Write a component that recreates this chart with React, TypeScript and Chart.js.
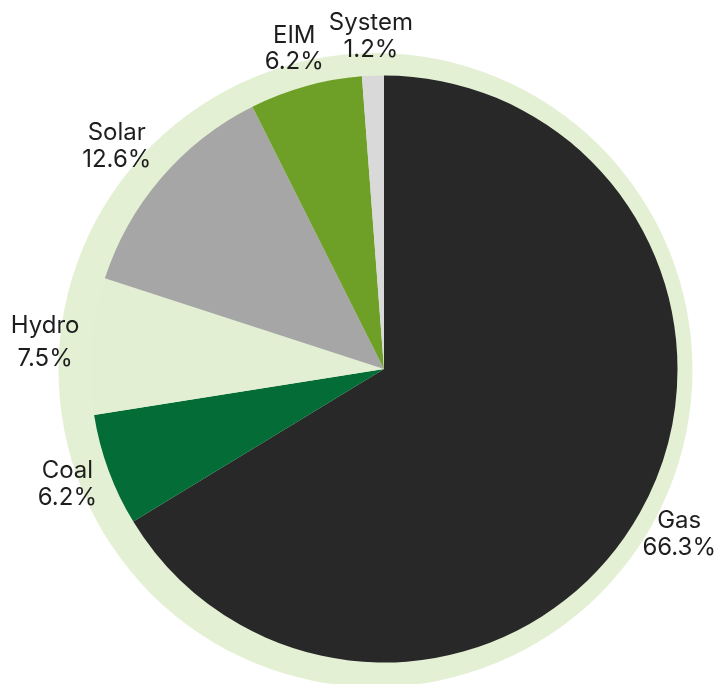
import React, { useEffect, useRef } from "react";
import { Chart, registerables } from "chart.js";

Chart.register(...registerables);

const categories = ["Gas", "Coal", "Hydro", "Solar", "EIM", "System"];
const shares = [66.3, 6.2, 7.5, 12.6, 6.2, 1.2];
const sliceColors = ["#282828", "#036c37", "#e3efd3", "#a6a6a6", "#6ea028", "#d9d9d9"];
const lineGaps = [27, 27, 33, 27, 26, 27];

const LABEL_FONT = "24px Inter";
const LABEL_PAD = 4;
const LABEL_OFFSET = 8;

const backgroundCircle = {
  id: "backgroundCircle",
  beforeDatasetsDraw(chart: any) {
    const meta = chart.getDatasetMeta(0);
    const arc = meta.data[0];
    if (!arc) return;
    const { x, y, outerRadius } = arc.getProps(["x", "y", "outerRadius"], true);
    const ctx = chart.ctx;
    ctx.save();
    ctx.fillStyle = "#e3f0d3";
    ctx.beginPath();
    ctx.arc(x - 8.5, y + 1, outerRadius + 23.5, 0, Math.PI * 2);
    ctx.fill();
    ctx.restore();
  },
};

const outerLabels = {
  id: "outerLabels",
  afterDatasetsDraw(chart: any) {
    const meta = chart.getDatasetMeta(0);
    const ctx = chart.ctx;
    ctx.save();
    ctx.fillStyle = "#1e1e1e";
    ctx.font = LABEL_FONT;
    ctx.textAlign = "center";
    ctx.textBaseline = "middle";
    meta.data.forEach((el: any, i: number) => {
      const { x, y, startAngle, endAngle, outerRadius } = el.getProps(
        ["x", "y", "startAngle", "endAngle", "outerRadius"],
        true
      );
      const lines = [categories[i], shares[i].toFixed(1) + "%"];
      const gap = lineGaps[i];
      const tw = Math.max(...lines.map((t) => ctx.measureText(t).width));
      const w = tw + 2 * LABEL_PAD;
      const h = lines.length * gap + 2 * LABEL_PAD;
      const mid = (startAngle + endAngle) / 2;
      const vx = Math.cos(mid);
      const vy = Math.sin(mid);
      const vs = 1 / Math.max(Math.abs(vx), Math.abs(vy));
      const ex = x + vx * outerRadius;
      const ey = y + vy * outerRadius;
      let lx = ex + (w / 2) * vx * vs + LABEL_OFFSET * vx;
      const ly = ey + (h / 2) * vy * vs + LABEL_OFFSET * vy;
      const maxX = chart.width - 1 - tw / 2;
      const minX = 1 + tw / 2;
      lx = Math.min(maxX, Math.max(minX, lx));
      ctx.fillText(lines[0], lx, ly - gap / 2);
      ctx.fillText(lines[1], lx, ly + gap / 2);
    });
    ctx.restore();
  },
};

export default function App() {
  const ref = useRef<HTMLCanvasElement | null>(null);
  useEffect(() => {
    if (!ref.current) return;
    const chart = new Chart(ref.current, {
      type: "pie",
      data: {
        labels: categories,
        datasets: [
          {
            data: shares,
            backgroundColor: sliceColors,
            borderWidth: 0,
          },
        ],
      },
      options: {
        animation: false,
        responsive: true,
        maintainAspectRatio: false,
        layout: { padding: { left: 90.5, right: 39.5, top: 75.5, bottom: 21.5 } },
        plugins: {
          legend: { display: false },
          tooltip: { enabled: false },
        },
      },
      plugins: [backgroundCircle, outerLabels],
    });
    return () => chart.destroy();
  }, []);
  return (
    <div style={{ position: "absolute", left: 0, top: 0, width: 717, height: 684, background: "#fff" }}>
      <canvas ref={ref} />
    </div>
  );
}
